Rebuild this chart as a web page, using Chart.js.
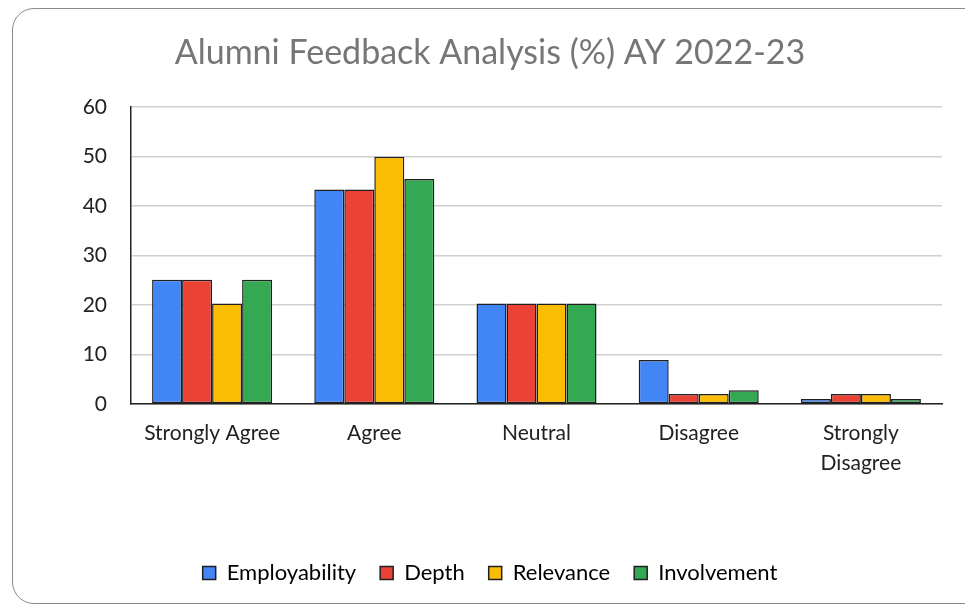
<!DOCTYPE html>
<html>
<head>
<meta charset="utf-8">
<script src="https://cdn.jsdelivr.net/npm/chart.js@4"></script>
<style>
  body { margin: 0; background: #fff; }
  #frame {
    position: absolute; left: 12px; top: 8px; width: 990px; height: 596px;
    border: 1px solid #8c8c8c; border-radius: 22px; box-sizing: border-box;
  }
  #chart { position: absolute; left: 0; top: 0; }
</style>
</head>
<body>
<div id="frame"></div>
<canvas id="chart" width="965" height="612"></canvas>
<script>
// categories and series
const categories = ['Strongly Agree', 'Agree', 'Neutral', 'Disagree', ['Strongly', 'Disagree']];
const employability = [25.1, 43.3, 20.3, 8.9, 1.0];
const depth = [25.1, 43.3, 20.3, 2.0, 2.0];
const relevance = [20.3, 49.9, 20.3, 2.0, 2.0];
const involvement = [25.1, 45.4, 20.3, 2.8, 1.0];
const yTicks = [0, 10, 20, 30, 40, 50, 60];

const font = "Lato, 'Liberation Sans', sans-serif";
var ctx = document.getElementById('chart').getContext('2d');

function series(label, data, color) {
    return {
        label: label,
        data: data,
        backgroundColor: color,
        borderColor: '#1f1f1f',
        borderWidth: 1.5,
        borderSkipped: false,
        categoryPercentage: 0.74,
        barPercentage: 1.0
    };
}

new Chart(ctx, {
    type: 'bar',
    data: {
        labels: categories,
        datasets: [
            series('Employability', employability, '#4285f4'),
            series('Depth', depth, '#ea4335'),
            series('Relevance', relevance, '#fbbc04'),
            series('Involvement', involvement, '#34a853')
        ]
    },
    options: {
        responsive: false,
        animation: false,
        // left padding keeps title and legend centred like the original
        layout: { padding: { left: 38, right: 23, top: 0, bottom: 18 } },
        plugins: {
            title: {
                display: true,
                text: 'Alumni Feedback Analysis (%) AY 2022-23',
                color: '#767676',
                font: { family: font, size: 34, weight: 'normal' },
                padding: { top: 33, bottom: 33 }
            },
            legend: {
                position: 'bottom',
                labels: {
                    color: '#333',
                    font: { family: font, size: 22 },
                    boxWidth: 13,
                    boxHeight: 13,
                    padding: 24,
                    generateLabels: function (chart) {
                        return chart.data.datasets.map(function (ds, i) {
                            return {
                                text: ds.label,
                                fillStyle: ds.backgroundColor,
                                strokeStyle: '#1f1f1f',
                                lineWidth: 1.5,
                                datasetIndex: i
                            };
                        });
                    }
                }
            },
            tooltip: { enabled: false }
        },
        scales: {
            x: {
                grid: { display: false, drawTicks: false },
                border: { color: '#222', width: 1.5 },
                ticks: { color: '#222', font: { family: font, size: 21, lineHeight: 1.45 }, padding: 14 },
                afterFit: function (scale) { scale.height = 134; }
            },
            y: {
                min: 0,
                max: 60,
                afterBuildTicks: function (scale) {
                    scale.ticks = yTicks.map(function (v) { return { value: v }; });
                },
                grid: { color: '#d0d0d0', lineWidth: 1.5, drawTicks: false },
                border: { color: '#222', width: 1.5 },
                ticks: { color: '#222', font: { family: font, size: 21 }, padding: 24 },
                afterFit: function (scale) { scale.width = 93; }
            }
        }
    }
});
</script>
</body>
</html>
